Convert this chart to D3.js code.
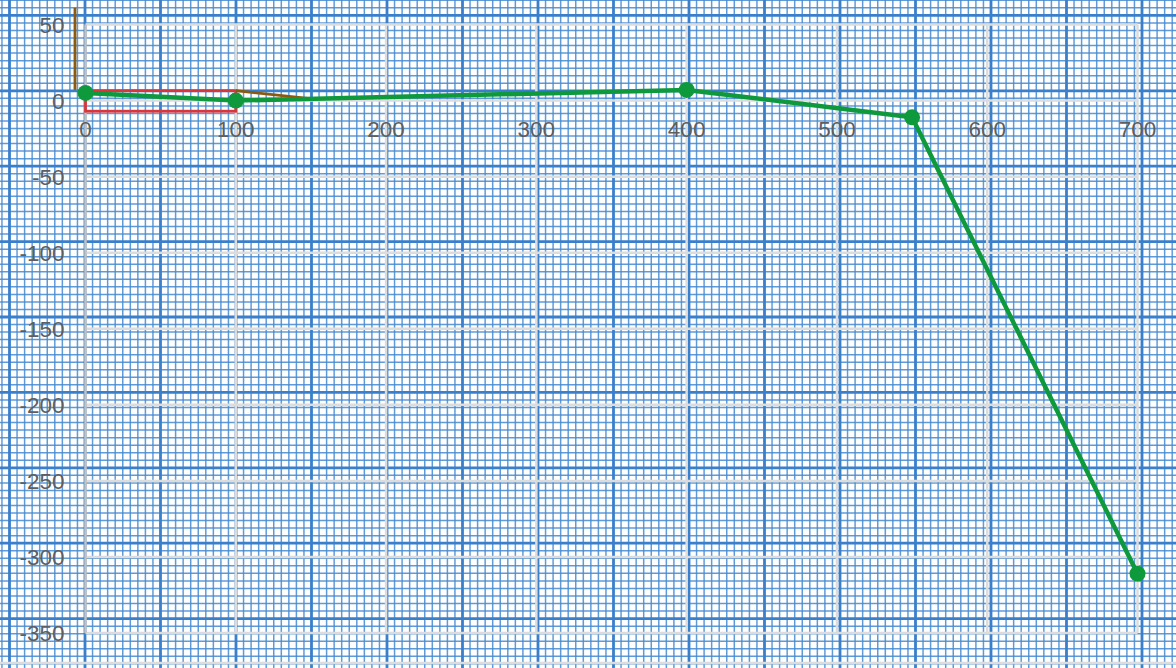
<!DOCTYPE html>
<html>
<head>
<meta charset="utf-8">
<script src="https://cdn.jsdelivr.net/npm/d3@7"></script>
<style>
html,body{margin:0;padding:0;background:#fff;overflow:hidden;}
svg{display:block;}
</style>
</head>
<body>
<svg id="chart" width="1176" height="668"></svg>
<script>
// ---- data ----
const seriesX = [0, 100, 400, 550, 700];
const seriesY = [5, 0, 7, -11, -311];
const xTicks = [0, 100, 200, 300, 400, 500, 600, 700];
const yTicks = [50, 0, -50, -100, -150, -200, -250, -300, -350];
const rectX = [0, 100];
const rectY = [6.5, -7];
const brownA_X = [-7, -7];
const brownA_Y = [61, 7];
const brownB_X = [100, 148];
const brownB_Y = [6.5, 1.5];

const W = 1176, H = 668;
const svg = d3.select("#chart");
const x = d3.scaleLinear().domain([0, 700]).range([85.5, 1137.5]);
const y = d3.scaleLinear().domain([50, -350]).range([24.5, 633]);

// ---- graph-paper background ----
const bg = svg.append("g");
const majorEvery = 10;
const vStart = 85 - 75.5 * 2;
const vLines = d3.range(0, 200).map(i => ({p: vStart + i * 7.55, major: i % majorEvery === 0})).filter(d => d.p >= -2 && d.p <= W + 2);
const hStart = 15.4 - 75.4;
const hLines = d3.range(0, 120).map(i => ({p: hStart + i * 7.54, major: i % majorEvery === 0})).filter(d => d.p >= -2 && d.p <= H + 2);
bg.selectAll("line.vm").data(vLines.filter(d => !d.major)).join("line")
  .attr("x1", d => d.p).attr("x2", d => d.p).attr("y1", 0).attr("y2", H)
  .attr("stroke", "#4589d0").attr("stroke-width", 1.5).attr("stroke-opacity", 0.85);
bg.selectAll("line.hm").data(hLines.filter(d => !d.major)).join("line")
  .attr("y1", d => d.p).attr("y2", d => d.p).attr("x1", 0).attr("x2", W)
  .attr("stroke", "#4589d0").attr("stroke-width", 1.5).attr("stroke-opacity", 0.85);
bg.selectAll("line.vM").data(vLines.filter(d => d.major)).join("line")
  .attr("x1", d => d.p).attr("x2", d => d.p).attr("y1", 0).attr("y2", H)
  .attr("stroke", "#3a7fcb").attr("stroke-width", 2.8);
bg.selectAll("line.hM").data(hLines.filter(d => d.major)).join("line")
  .attr("y1", d => d.p).attr("y2", d => d.p).attr("x1", 0).attr("x2", W)
  .attr("stroke", "#3a7fcb").attr("stroke-width", 2.8);

// ---- chart grid ----
const grid = svg.append("g");
grid.selectAll("line.gy").data(yTicks).join("line")
  .attr("x1", x(0)).attr("x2", x(700)).attr("y1", d => y(d)).attr("y2", d => y(d))
  .attr("stroke", "#dcdcdc").attr("stroke-width", 2.5);
grid.selectAll("line.gx").data(xTicks).join("line")
  .attr("x1", d => x(d)).attr("x2", d => x(d)).attr("y1", y(50)).attr("y2", y(-350))
  .attr("stroke", d => d === 0 ? "#c2c2c2" : "#dcdcdc").attr("stroke-width", 2.5);
grid.append("line").attr("x1", 0).attr("x2", W).attr("y1", 663).attr("y2", 663)
  .attr("stroke", "#dcdcdc").attr("stroke-width", 2.5);

// ---- labels ----
const font = "'Liberation Sans', Arial, sans-serif";
svg.append("g").selectAll("text").data(yTicks).join("text")
  .attr("x", 64.5).attr("y", d => y(d)).attr("dy", "0.36em")
  .attr("text-anchor", "end").attr("font-family", font).attr("font-size", 22.5)
  .attr("fill", "#5e5e5e").text(d => d);
svg.append("g").selectAll("text").data(xTicks).join("text")
  .attr("x", d => x(d)).attr("y", y(0) + 28).attr("dy", "0.36em")
  .attr("text-anchor", "middle").attr("font-family", font).attr("font-size", 22.5)
  .attr("fill", "#5e5e5e").text(d => d);

// ---- red rectangle ----
svg.append("rect")
  .attr("x", x(rectX[0])).attr("y", y(rectY[0]))
  .attr("width", x(rectX[1]) - x(rectX[0])).attr("height", y(rectY[1]) - y(rectY[0]))
  .attr("fill", "none").attr("stroke", "#d8353d").attr("stroke-width", 2.8);

// ---- brown lines ----
const line = d3.line().x(d => x(d[0])).y(d => y(d[1]));
[[brownA_X, brownA_Y], [brownB_X, brownB_Y]].forEach(([xs, ys]) => {
  svg.append("path").datum(xs.map((v, i) => [v, ys[i]]))
    .attr("d", line).attr("fill", "none").attr("stroke", "#8a5a10").attr("stroke-width", 2.8);
});

// ---- green series ----
const pts = seriesX.map((v, i) => [v, seriesY[i]]);
svg.append("path").datum(pts).attr("d", line)
  .attr("fill", "none").attr("stroke", "#0e9a3c").attr("stroke-width", 4.5)
  .attr("stroke-linejoin", "round");
svg.append("g").selectAll("circle").data(pts).join("circle")
  .attr("cx", d => x(d[0])).attr("cy", d => y(d[1])).attr("r", 8)
  .attr("fill", "#0e9a3c");
</script>
</body>
</html>
